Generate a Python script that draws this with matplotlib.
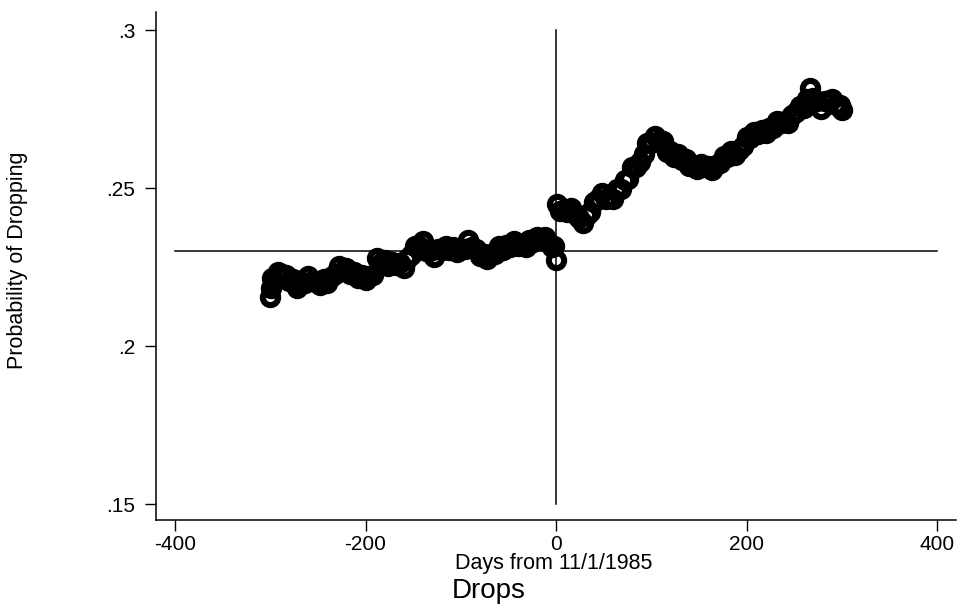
import matplotlib
matplotlib.use("Agg")
import matplotlib.pyplot as plt

# daily drop probability (days relative to 11/1/1985)
days = [-300, -299, -298, -296, -292, -288, -284, -280, -276, -272, -268, -264,
        -260, -256, -252, -248, -244, -240, -236, -232, -228, -224, -220, -216,
        -212, -208, -204, -200, -196, -192, -188, -184, -180, -176, -172, -168,
        -164, -160, -156, -152, -148, -144, -140, -136, -132, -128, -124, -120,
        -116, -112, -108, -104, -100, -96, -92, -88, -84, -80, -76, -72,
        -68, -64, -60, -56, -52, -48, -44, -40, -36, -32, -28, -24,
        -20, -16, -12, -8, -4, -2, 0,
        1, 4, 8, 12, 16, 20, 24, 28, 32, 36, 40, 44,
        48, 52, 56, 60, 64, 68, 72, 76, 80, 84, 88, 92,
        96, 100, 104, 108, 112, 116, 120, 124, 128, 132, 136, 140,
        144, 148, 152, 156, 160, 164, 168, 172, 176, 180, 184, 188,
        192, 196, 200, 204, 208, 212, 216, 220, 224, 228, 232, 236,
        240, 244, 248, 252, 256, 260, 264, 267, 270, 274, 278, 282,
        286, 290, 294, 298, 300]
prob = [0.2155, 0.2185, 0.2215, 0.2205, 0.2235, 0.2228, 0.2225, 0.2205, 0.2212, 0.2185, 0.2195, 0.2198,
        0.2222, 0.2205, 0.2203, 0.2192, 0.2212, 0.2198, 0.2218, 0.2228, 0.2252, 0.2238, 0.2246, 0.2228,
        0.2234, 0.2214, 0.2224, 0.2208, 0.2220, 0.2224, 0.2278, 0.2264, 0.2272, 0.2254, 0.2266, 0.2256,
        0.2264, 0.2246, 0.2276, 0.2288, 0.2316, 0.2316, 0.2332, 0.2302, 0.2302, 0.2283, 0.2308, 0.2303,
        0.2318, 0.2304, 0.2314, 0.2296, 0.2308, 0.2308, 0.2336, 0.2314, 0.2308, 0.2284, 0.2291, 0.2274,
        0.2291, 0.2292, 0.2316, 0.2305, 0.2321, 0.2314, 0.2331, 0.2316, 0.2324, 0.2314, 0.2336, 0.2329,
        0.2344, 0.2334, 0.2344, 0.2329, 0.2312, 0.2318, 0.2272,
        0.2448, 0.2428, 0.2432, 0.2424, 0.2438, 0.2418, 0.2404, 0.2388, 0.2416, 0.2425, 0.2456, 0.2466,
        0.2484, 0.2464, 0.2471, 0.2464, 0.2496, 0.2496, 0.2526, 0.2529, 0.2566, 0.2566, 0.2581, 0.2609,
        0.2644, 0.2642, 0.2664, 0.2649, 0.2648, 0.2614, 0.2618, 0.2599, 0.2608, 0.2589, 0.2591, 0.2569,
        0.2574, 0.2559, 0.2576, 0.2566, 0.2571, 0.2556, 0.2574, 0.2579, 0.2601, 0.2599, 0.2616, 0.2604,
        0.2621, 0.2634, 0.2661, 0.2659, 0.2678, 0.2672, 0.2684, 0.2674, 0.2691, 0.2689, 0.2711, 0.2706,
        0.2711, 0.2706, 0.2731, 0.2739, 0.2761, 0.2754, 0.2781, 0.2818, 0.2784, 0.2774, 0.2749, 0.2776,
        0.2772, 0.2781, 0.2764, 0.2764, 0.2746]

xticks = [-400, -200, 0, 200, 400]
yticks = [0.15, 0.2, 0.25, 0.3]
ytick_labels = [".15", ".2", ".25", ".3"]
ref_level = 0.23

plt.rcParams["font.family"] = ["Liberation Sans", "DejaVu Sans"]

fig = plt.figure(figsize=(9.58, 6.06), dpi=100)
ax = fig.add_axes([0.1628, 0.1419, 0.8352, 0.8383])

# hollow circles, drawn thick so the overlapping markers read as a band
ax.plot(days, prob, linestyle="none", marker="o", markersize=11,
        markerfacecolor="none", markeredgecolor="black", markeredgewidth=4.4)

# reference lines
ax.plot([-400, 400], [ref_level, ref_level], color="black", linewidth=1.1)
ax.plot([0, 0], [0.15, 0.3], color="black", linewidth=1.1)

ax.set_xlim(-420, 420)
ax.set_ylim(0.14494, 0.3057)
ax.set_xticks(xticks)
ax.set_xticklabels([str(t) for t in xticks])
ax.set_yticks(yticks)
ax.set_yticklabels(ytick_labels)
ax.tick_params(axis="both", direction="out", length=8, width=1, labelsize=15, colors="black")
ax.tick_params(axis="x", pad=3)
ax.tick_params(axis="y", pad=7)

for side in ["top", "right"]:
    ax.spines[side].set_visible(False)
for side in ["left", "bottom"]:
    ax.spines[side].set_linewidth(1.1)

fig.text(554 / 958, 1 - 563 / 606, "Days from 11/1/1985", ha="center", va="center", fontsize=15.5)
fig.text(489 / 958, 1 - 591 / 606, "Drops", ha="center", va="center", fontsize=20)
fig.text(18 / 958, 1 - 260 / 606, "Probability of Dropping", rotation=90,
         ha="center", va="center", fontsize=15.5)

fig.savefig("out.png", dpi=100)
